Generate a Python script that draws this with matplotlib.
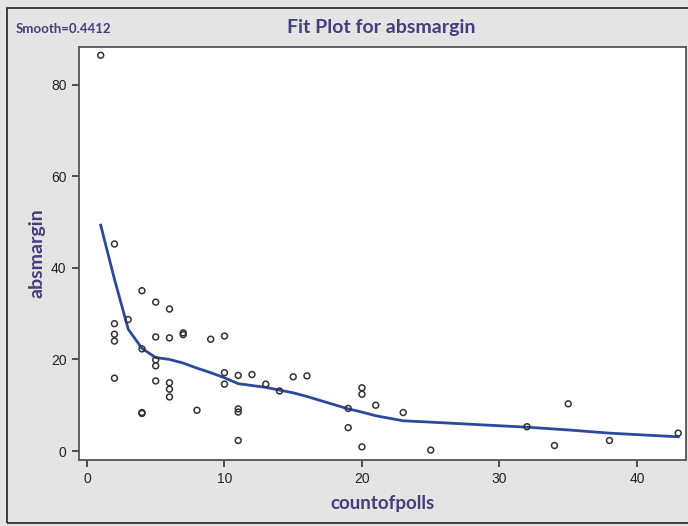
import matplotlib.pyplot as plt
from matplotlib.patches import Rectangle

# observations: number of polls vs absolute margin
countofpolls = [1, 2, 2, 2, 2, 2, 3, 4, 4, 4, 4, 5, 5, 5, 5, 5, 6, 6, 6, 6, 6,
                7, 7, 8, 9, 10, 10, 10, 11, 11, 11, 11, 12, 13, 14, 15, 16,
                19, 19, 20, 20, 20, 21, 23, 25, 32, 34, 35, 38, 43]
absmargin = [86.4, 45.2, 27.8, 25.5, 24.0, 15.9, 28.7, 35.0, 22.3, 8.4, 8.2,
             32.5, 24.9, 19.9, 18.6, 15.3, 31.0, 24.7, 14.9, 13.5, 11.8,
             25.8, 25.4, 8.9, 24.4, 25.1, 17.1, 14.6, 16.5, 9.2, 8.5, 2.3,
             16.7, 14.6, 13.1, 16.2, 16.4, 9.3, 5.1, 13.8, 12.4, 0.9, 10.0,
             8.4, 0.2, 5.3, 1.2, 10.3, 2.3, 3.9]

# loess fit evaluated at the distinct x values
fit_x = [1, 2, 3, 4, 5, 6, 7, 8, 9, 10, 11, 12, 13, 14, 15, 16, 19, 20, 21,
         23, 25, 32, 34, 35, 38, 43]
fit_y = [49.3, 37.5, 26.6, 22.4, 20.4, 20.0, 19.2, 18.1, 17.1, 16.0, 14.7,
         14.3, 13.9, 13.3, 12.7, 11.9, 9.2, 8.5, 7.7, 6.6, 6.3, 5.2, 4.8,
         4.6, 3.9, 3.1]

smooth = 0.4412
xticks = [0, 10, 20, 30, 40]
yticks = [0, 20, 40, 60, 80]

purple = '#433f7e'
bg = '#e4e4e4'
tickfont = ['Liberation Sans Narrow', 'Liberation Sans', 'DejaVu Sans']
labelfont = ['Lato', 'DejaVu Sans']

fig = plt.figure(figsize=(6.88, 5.26), dpi=100, facecolor=bg)
ax = fig.add_axes([0.1148, 0.1255, 0.8822, 0.7851])
ax.set_facecolor('white')

ax.plot(fit_x, fit_y, color='#2b4a9b', linewidth=2, zorder=2)
ax.scatter(countofpolls, absmargin, s=18, facecolors='none',
           edgecolors='#333333', linewidths=1.1, zorder=3)

ax.set_xlim(-0.58, 43.56)
ax.set_ylim(-1.96, 88.2)
ax.set_xticks(xticks)
ax.set_yticks(yticks)
ax.set_xticklabels([str(t) for t in xticks], family=tickfont, fontsize=10,
                   color='#222222')
ax.set_yticklabels([str(t) for t in yticks], family=tickfont, fontsize=10,
                   color='#222222')
ax.tick_params(direction='out', length=5, width=1.2, color='#333333', pad=4)
for s in ax.spines.values():
    s.set_color('#555555')
    s.set_linewidth(1.3)

ax.set_xlabel('countofpolls', family=labelfont, fontweight='bold',
              fontsize=13.5, color=purple, labelpad=6)
ax.set_ylabel('absmargin', family=labelfont, fontweight='bold',
              fontsize=14, color=purple, labelpad=4)

fig.text(0.554, 0.948, 'Fit Plot for absmargin', family=labelfont,
         fontweight='bold', fontsize=14, color=purple, ha='center', va='center')
fig.text(0.023, 0.945, 'Smooth=%.4f' % smooth, family=labelfont,
         fontweight='bold', fontsize=9.5, color=purple, ha='left', va='center')

# outer frame around the whole graph (right side runs off the figure)
fig.patches.append(Rectangle((0.0102, 0.0057), 1.0, 0.9793,
                             transform=fig.transFigure, fill=False,
                             edgecolor='#222222', linewidth=1.2))

fig.savefig('out.png', dpi=100, facecolor=bg)
